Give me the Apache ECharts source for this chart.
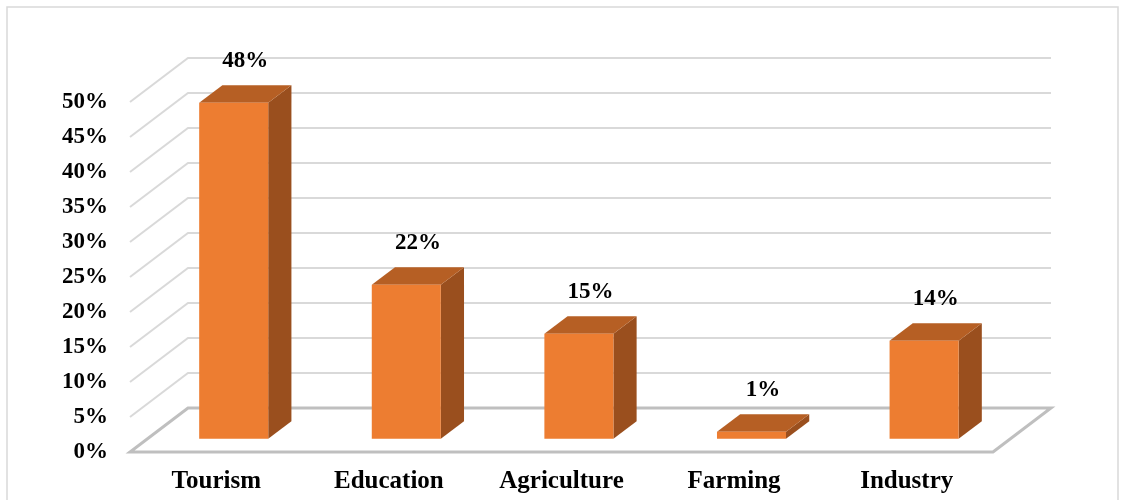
<!DOCTYPE html>
<html>
<head>
<meta charset="utf-8">
<script src="https://cdn.jsdelivr.net/npm/echarts@6/dist/echarts.min.js"></script>
<style>
  html, body { margin: 0; padding: 0; background: #fff; }
  #chart { width: 1126px; height: 500px; }
</style>
</head>
<body>
<div id="chart"></div>
<script>
// Share of respondents by sector
const categories = ['Tourism', 'Education', 'Agriculture', 'Farming', 'Industry'];
const shares = [48, 22, 15, 1, 14];
const yTicks = [0, 5, 10, 15, 20, 25, 30, 35, 40, 45, 50];

// 3D look: depth of the floor / back wall, in pixels
const DEPTH_X = 58;
const DEPTH_Y = -44;
const BAR_FRONT = 0.3;   // bar front face as a fraction of the depth
const BAR_BACK = 0.7;    // bar back face
const BAR_WIDTH = 0.4;   // fraction of the category band

const FONT = '"Liberation Serif", "Times New Roman", serif';

const chart = echarts.init(document.getElementById('chart'), null, { renderer: 'canvas' });

function renderGrid(params, api) {
  const cs = params.coordSys;
  const v = api.value(0);
  const y = api.coord([0, v])[1];
  const x0 = cs.x;
  const x1 = cs.x + cs.width;
  if (v === 0) {
    return {
      type: 'polygon',
      shape: { points: [[x0, y], [x1, y], [x1 + DEPTH_X, y + DEPTH_Y], [x0 + DEPTH_X, y + DEPTH_Y]] },
      style: { fill: 'none', stroke: '#bfbfbf', lineWidth: 3, lineJoin: 'miter' }
    };
  }
  return {
    type: 'polyline',
    shape: { points: [[x0, y], [x0 + DEPTH_X, y + DEPTH_Y], [x1 + DEPTH_X, y + DEPTH_Y]] },
    style: { fill: 'none', stroke: '#d9d9d9', lineWidth: 2 }
  };
}

function renderBar(params, api) {
  const idx = api.value(0);
  const val = api.value(1);
  const base = api.coord([idx, 0]);
  const top = api.coord([idx, val]);
  const band = api.size([1, 0])[0];
  const w = band * BAR_WIDTH;
  const fx = BAR_FRONT * DEPTH_X, fy = BAR_FRONT * DEPTH_Y;
  const bx = BAR_BACK * DEPTH_X, by = BAR_BACK * DEPTH_Y;
  const L = base[0] - w / 2, R = base[0] + w / 2;
  const yb = base[1], yt = top[1];

  const FTL = [L + fx, yt + fy], FTR = [R + fx, yt + fy];
  const FBL = [L + fx, yb + fy], FBR = [R + fx, yb + fy];
  const BTL = [L + bx, yt + by], BTR = [R + bx, yt + by];
  const BBR = [R + bx, yb + by];

  return {
    type: 'group',
    children: [
      { type: 'polygon', shape: { points: [FTR, BTR, BBR, FBR] }, style: { fill: '#9a4f1e' } },
      { type: 'polygon', shape: { points: [FTL, FTR, BTR, BTL] }, style: { fill: '#b65f24' } },
      { type: 'polygon', shape: { points: [FTL, FTR, FBR, FBL] }, style: { fill: '#ed7d31' } },
      {
        type: 'text',
        x: base[0] + (fx + bx) / 2,
        y: BTL[1] - 24,
        style: {
          text: val + '%',
          fill: '#000',
          font: 'bold 23px ' + FONT,
          textAlign: 'center',
          textVerticalAlign: 'middle'
        }
      }
    ]
  };
}

chart.setOption({
  animation: false,
  backgroundColor: '#fff',
  graphic: [{
    type: 'rect',
    shape: { x: 7, y: 7, width: 1111, height: 500 },
    style: { fill: 'none', stroke: '#d9d9d9', lineWidth: 1.5 },
    silent: true,
    z: -10
  }],
  grid: { left: 130, right: 133, top: 102, bottom: 48 },
  xAxis: {
    type: 'category',
    data: categories,
    axisLine: { show: false },
    axisTick: { show: false },
    axisLabel: {
      margin: 17,
      color: '#000',
      fontFamily: FONT,
      fontWeight: 'bold',
      fontSize: 25
    }
  },
  yAxis: {
    type: 'value',
    min: 0,
    max: 50,
    interval: 5,
    axisLine: { show: false },
    axisTick: { show: false },
    splitLine: { show: false },
    axisLabel: {
      margin: 22,
      color: '#000',
      fontFamily: FONT,
      fontWeight: 'bold',
      fontSize: 23,
      formatter: '{value}%'
    }
  },
  series: [
    {
      type: 'custom',
      renderItem: renderGrid,
      data: yTicks.map(v => [v]),
      encode: { y: 0 },
      silent: true,
      z: 1
    },
    {
      type: 'custom',
      renderItem: renderBar,
      data: shares.map((v, i) => [i, v]),
      encode: { x: 0, y: 1 },
      z: 2
    }
  ]
});
</script>
</body>
</html>
